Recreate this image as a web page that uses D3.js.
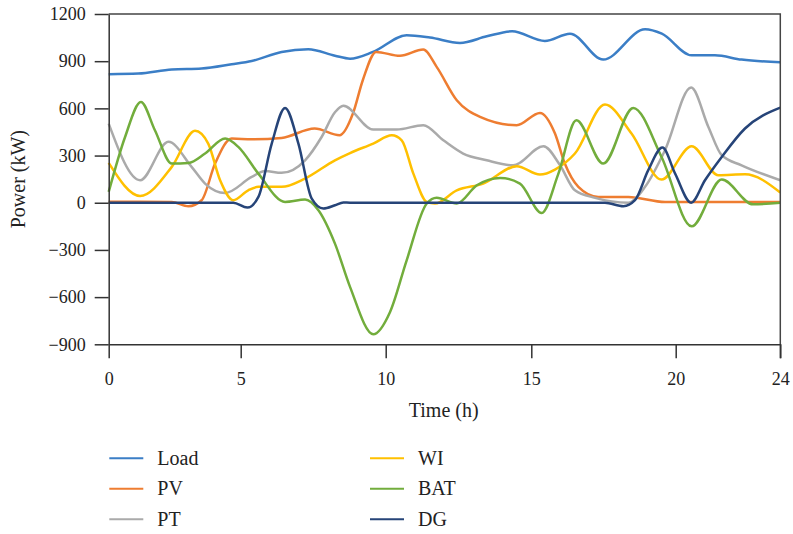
<!DOCTYPE html>
<html>
<head>
<meta charset="utf-8">
<script src="https://cdn.jsdelivr.net/npm/d3@7"></script>
<style>
  body { margin: 0; background: #fff; }
  svg { display: block; font-family: "Liberation Serif", "Times New Roman", serif; }
</style>
</head>
<body>
<div class="chart"></div>
<script>
// series values, [hour, kW]
const load = [[0,817],[1.12,821],[2.39,847],[3.52,853],[4.66,880],[5.38,901],[6.41,959],[7.33,976],[8.25,935],[8.77,916],[9.56,959],[10.72,1065],[11.52,1050],[12.55,1016],[13.47,1058],[14.34,1090],[15.47,1029],[16.34,1075],[17.49,910],[18.94,1103],[19.52,1075],[20.61,937],[21.5,937],[22.52,910],[24,893]];
const pv = [[0,7],[1.2,7],[2.39,5],[3.02,-22],[3.52,16],[4.03,249],[4.66,408],[5.38,404],[6.41,412],[7.55,472],[8.41,429],[8.87,567],[9.21,779],[9.67,959],[10.49,934],[11.29,974],[11.75,864],[12.44,652],[13.24,546],[14.5,493],[15.3,571],[15.82,440],[16.16,249],[16.63,101],[17.32,37],[18.36,37],[19.63,5],[22,5],[24,5]];
const pt = [[0,503],[1.19,143],[2.26,387],[3.14,228],[3.65,122],[4.41,62],[5.38,164],[5.84,202],[6.41,190],[7.22,270],[7.79,418],[8.25,575],[8.54,616],[9.57,465],[10.38,465],[11.29,493],[11.98,397],[12.66,313],[13.47,270],[14.38,238],[15.42,359],[15.99,240],[16.51,79],[17.21,31],[18.36,0],[18.94,101],[19.63,334],[20.59,732],[21.25,482],[21.76,302],[22.52,238],[24,143]];
const wi = [[0,253],[1.19,43],[2.39,228],[3.27,457],[3.77,376],[4.22,143],[4.72,16],[5.26,79],[5.61,101],[6.41,101],[7.22,154],[8.25,270],[8.77,316],[9.57,376],[10.21,429],[10.55,397],[10.95,185],[11.41,5],[11.69,-5],[12.44,79],[13.35,122],[14.5,232],[15.3,179],[15.82,211],[16.51,313],[17.55,624],[18.47,440],[19.51,147],[20.61,359],[21.63,175],[22.65,181],[24,65]];
const bat = [[0,69],[0.62,418],[1.22,641],[1.75,461],[2.39,249],[3.02,253],[3.65,313],[4.41,408],[4.91,355],[5.61,185],[6.53,5],[7.22,20],[7.68,-48],[8.25,-260],[8.77,-535],[9.57,-836],[10.15,-694],[10.72,-366],[11.41,-5],[11.75,31],[12.44,-5],[13.13,111],[13.93,158],[14.61,122],[15.36,-65],[15.93,180],[16.56,524],[17.49,249],[18.53,603],[19.51,291],[20.61,-150],[21.76,147],[22.96,-10],[24,0]];
const dg = [[0,0],[2,0],[4,0],[4.72,0],[5.23,-31],[5.61,37],[6.07,376],[6.53,603],[6.99,376],[7.45,26],[7.85,-37],[8.25,-16],[8.54,2],[8.77,0],[11,0],[14,0],[17,0],[17.55,0],[18.19,-22],[18.59,16],[19.05,207],[19.54,351],[19.98,185],[20.59,0],[21.12,143],[21.76,291],[22.65,472],[24,605]];

const names = ["Load", "PV", "PT", "WI", "BAT", "DG"];
const values = [load, pv, pt, wi, bat, dg];
const colors = ["#3b7ec6", "#ee7d31", "#aaaaaa", "#ffc000", "#72ad3c", "#264478"];

const xTicks = [0, 5, 10, 15, 20, 24];
const yTicks = [-900, -600, -300, 0, 300, 600, 900, 1200];

const W = 793, H = 534;
const FONT = "Liberation Serif, Times New Roman, serif";
const svg = d3.select(".chart").append("svg").attr("width", W).attr("height", H);

// hour axis is not evenly spaced in the original figure
const x = d3.scaleLinear()
  .domain(xTicks)
  .range([108.7, 240.7, 385.7, 531.3, 675.7, 780.3]);
const y = d3.scaleLinear().domain([-900, 1200]).range([344.3, 14]);

const line = d3.line()
  .x(d => x(d[0]))
  .y(d => y(d[1]))
  .curve(d3.curveMonotoneX);

values.forEach((s, i) => {
  svg.append("path")
    .attr("d", line(s))
    .attr("fill", "none")
    .attr("stroke", colors[i])
    .attr("stroke-width", 2.5)
    .attr("stroke-linejoin", "round");
});

// frame
svg.append("path")
  .attr("d", `M${x(0)},${y(1200)}H${x(24)}V${y(-900) + 14}`)
  .attr("fill", "none").attr("stroke", "#444").attr("stroke-width", 1.5);

const yAxis = svg.append("g")
  .attr("transform", `translate(${x(0)},0)`)
  .call(d3.axisLeft(y).tickValues(yTicks).tickFormat(d3.format("d"))
    .tickSize(14).tickSizeOuter(0).tickPadding(9));
const xAxis = svg.append("g")
  .attr("transform", `translate(0,${y(-900)})`)
  .call(d3.axisBottom(x).tickValues(xTicks).tickFormat(d3.format("d"))
    .tickSize(14).tickSizeOuter(0).tickPadding(14));

[xAxis, yAxis].forEach(g => {
  g.attr("font-family", FONT).attr("font-size", 18);
  g.selectAll("path, line").attr("stroke", "#333").attr("stroke-width", 1.5);
  g.selectAll("text").attr("fill", "#222");
});

svg.append("text")
  .attr("x", 443.7).attr("y", 417)
  .attr("text-anchor", "middle")
  .attr("font-size", 20).attr("fill", "#222")
  .text("Time (h)");

svg.append("text")
  .attr("transform", `translate(25,${(y(1200) + y(-900)) / 2}) rotate(-90)`)
  .attr("text-anchor", "middle")
  .attr("font-size", 20).attr("fill", "#222")
  .text("Power (kW)");

// legend, two columns of three
const lg = svg.append("g");
names.forEach((n, i) => {
  const col = Math.floor(i / 3), row = i % 3;
  const lx = col === 0 ? 109.3 : 370, ly = 458.3 + row * 30.5;
  lg.append("line")
    .attr("x1", lx).attr("x2", lx + 34)
    .attr("y1", ly).attr("y2", ly)
    .attr("stroke", colors[i]).attr("stroke-width", 2);
  lg.append("text")
    .attr("x", lx + 48).attr("y", ly + 6.5)
    .attr("font-size", 20).attr("fill", "#222")
    .text(n);
});
</script>
</body>
</html>
